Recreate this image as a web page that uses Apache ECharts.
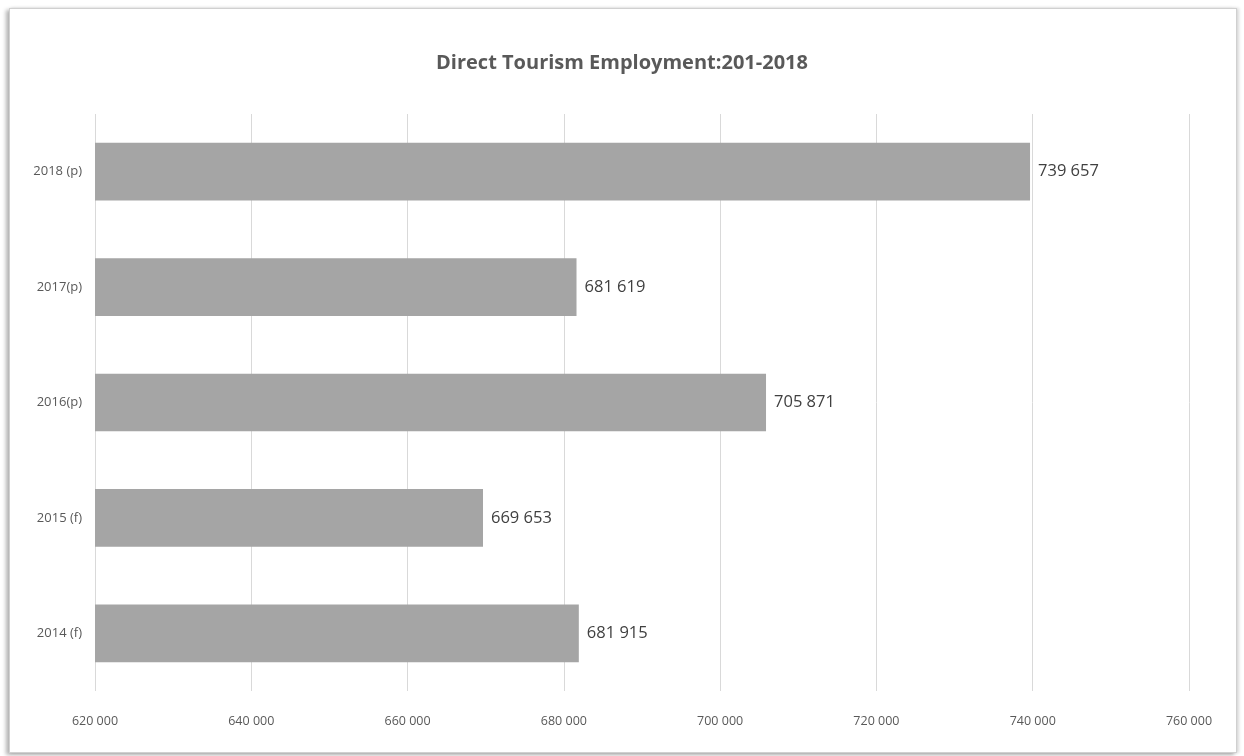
<!DOCTYPE html>
<html>
<head>
<meta charset="utf-8">
<script src="https://cdn.jsdelivr.net/npm/echarts@6/dist/echarts.min.js"></script>
<style>
  html, body { margin: 0; padding: 0; background: #fff; }
  #frame {
    position: absolute; left: 9px; top: 8px; width: 1228px; height: 745px;
    border: 1px solid #d0d0d0; box-sizing: border-box;
    box-shadow: -3px 2px 4px rgba(0,0,0,0.3), 2px 0 3px rgba(0,0,0,0.15);
  }
  #chart { position: absolute; left: 0; top: 0; width: 1244px; height: 756px; }
</style>
</head>
<body>
<div id="frame"></div>
<div id="chart"></div>
<script>
const categories = ['2014 (f)', '2015 (f)', '2016(p)', '2017(p)', '2018 (p)'];
const employment = [681915, 669653, 705871, 681619, 739657];
const axisMin = 620000, axisMax = 760000, axisStep = 20000;

const FONT = '"Open Sans", sans-serif';
const fmt = v => String(v).replace(/\B(?=(\d{3})+(?!\d))/g, ' ');

const chart = echarts.init(document.getElementById('chart'));
chart.setOption({
  backgroundColor: 'transparent',
  animation: false,
  title: {
    text: 'Direct Tourism Employment:201-2018',
    left: 'center', top: 48,
    textStyle: { fontFamily: FONT, fontSize: 20, fontWeight: 'bold', color: '#595959' }
  },
  grid: { left: 95, right: 55, top: 114, bottom: 65 },
  xAxis: {
    type: 'value', min: axisMin, max: axisMax, interval: axisStep,
    axisLine: { show: false }, axisTick: { show: false },
    splitLine: { lineStyle: { color: '#d9d9d9', width: 1 } },
    axisLabel: { formatter: fmt, margin: 24, fontFamily: FONT, fontSize: 12.5, color: '#595959' }
  },
  yAxis: {
    type: 'category', data: categories,
    axisLine: { show: false }, axisTick: { show: false },
    axisLabel: { margin: 13, fontFamily: FONT, fontSize: 13, color: '#595959' }
  },
  series: [{
    type: 'bar', data: employment, barWidth: '50%',
    itemStyle: { color: '#a5a5a5' },
    label: {
      show: true, position: 'right', distance: 8, formatter: p => fmt(p.value),
      fontFamily: FONT, fontSize: 16.5, color: '#404040'
    }
  }]
});
</script>
</body>
</html>
